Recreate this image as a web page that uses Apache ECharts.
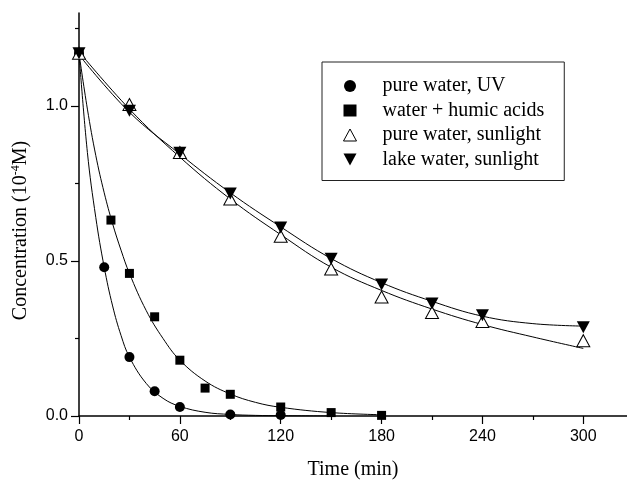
<!DOCTYPE html>
<html>
<head>
<meta charset="utf-8">
<script src="https://cdn.jsdelivr.net/npm/echarts@6/dist/echarts.min.js"></script>
<style>html,body{margin:0;padding:0;background:#fff}#c{width:627px;height:485px}</style>
</head>
<body>
<div id="c"></div>
<script>
// Measured points
var uvT = [0, 15, 30, 45, 60, 90, 120];
var uvC = [1.17, 0.48, 0.19, 0.08, 0.029, 0.005, 0.003];
var humicT = [0, 19, 30, 45, 60, 75, 90, 120, 150, 180];
var humicC = [1.17, 0.632, 0.46, 0.32, 0.18, 0.09, 0.07, 0.029, 0.011, 0.002];
var sunT = [0, 30, 60, 90, 120, 150, 180, 210, 240, 300];
var pureSunC = [1.17, 1.005, 0.85, 0.70, 0.58, 0.474, 0.384, 0.334, 0.305, 0.243];
var lakeSunC = [1.17, 0.985, 0.849, 0.718, 0.608, 0.507, 0.424, 0.363, 0.325, 0.286];

// Fitted curves
var uvFitT = [0, 5, 10, 15, 20, 25, 30, 40, 50, 60, 75, 90, 105, 120, 150];
var uvFit = [1.17, 0.85, 0.64, 0.48, 0.355, 0.26, 0.19, 0.105, 0.057, 0.031, 0.012, 0.005, 0.002, 0.001, 0];
var humicFitT = [0, 5, 10, 15, 20, 25, 30, 40, 50, 60, 75, 90, 105, 120, 150, 180];
var humicFit = [1.17, 0.99, 0.84, 0.72, 0.62, 0.535, 0.46, 0.34, 0.25, 0.18, 0.113, 0.071, 0.044, 0.028, 0.011, 0.004];
var sunFitT = [0, 30, 60, 90, 120, 150, 180, 210, 240, 270, 300];
var pureSunFit = [1.175, 0.99, 0.835, 0.70, 0.585, 0.48, 0.405, 0.345, 0.295, 0.255, 0.218];
var lakeSunFit = [1.165, 0.98, 0.845, 0.72, 0.61, 0.508, 0.43, 0.37, 0.322, 0.298, 0.29];

// Tick labels
var xMajor = [0, 60, 120, 180, 240, 300];
var xMinor = [30, 90, 150, 210, 270];
var yMajor = [0, 0.5, 1.0];
var yMinor = [0.25, 0.75, 1.25];

var names = ['pure water, UV', 'water + humic acids', 'pure water, sunlight', 'lake water, sunlight'];

function zip(a, b) { return a.map(function (v, i) { return [v, b[i]]; }); }

var serif = 'Liberation Serif';
var sans = 'Liberation Sans';
var downTri = 'path://M0,0L12,0L6,11Z';

function fitLine(t, c) {
  return {
    type: 'line', data: zip(t, c), smooth: 0.4, showSymbol: false, symbol: 'none',
    lineStyle: { color: '#000', width: 1 }, silent: true, z: 2
  };
}

var chart = echarts.init(document.getElementById('c'));
chart.setOption({
  animation: false,
  backgroundColor: '#fff',
  grid: { left: 79, right: 0, top: 13, bottom: 66, containLabel: false },
  xAxis: [
    {
      type: 'value', min: 0, max: 326,
      name: 'Time (min)', nameLocation: 'middle', nameGap: 44,
      nameTextStyle: { fontFamily: serif, fontSize: 20, color: '#000' },
      axisLine: { show: true, onZero: false, lineStyle: { color: '#000', width: 1.5 } },
      axisTick: { show: true, length: 8, lineStyle: { color: '#000', width: 1.2 }, customValues: xMajor },
      axisLabel: { fontFamily: sans, fontSize: 16, color: '#000', margin: 13, customValues: xMajor },
      splitLine: { show: false }
    },
    {
      type: 'value', min: 0, max: 326, position: 'bottom',
      axisLine: { show: false },
      axisTick: { show: true, length: 4, lineStyle: { color: '#000', width: 1.2 }, customValues: xMinor },
      axisLabel: { show: false },
      splitLine: { show: false }
    }
  ],
  yAxis: [
    {
      type: 'value', min: 0, max: 1.3,
      name: 'Concentration (10{sup|-4}M)', nameLocation: 'middle', nameGap: 47,
      nameTextStyle: {
        fontFamily: serif, fontSize: 20, color: '#000', padding: [0, 32, 0, 0],
        rich: { sup: { fontFamily: serif, fontSize: 12, color: '#000', verticalAlign: 'top', padding: [0, 0, 10, 0] } }
      },
      axisLine: { show: true, onZero: false, lineStyle: { color: '#000', width: 1.5 } },
      axisTick: { show: true, length: 8, lineStyle: { color: '#000', width: 1.2 }, customValues: yMajor },
      axisLabel: {
        fontFamily: sans, fontSize: 16, color: '#000', margin: 11, customValues: yMajor,
        formatter: function (v) { return v.toFixed(1); }
      },
      splitLine: { show: false }
    },
    {
      type: 'value', min: 0, max: 1.3, position: 'left',
      axisLine: { show: false },
      axisTick: { show: true, length: 4, lineStyle: { color: '#000', width: 1.2 }, customValues: yMinor },
      axisLabel: { show: false },
      splitLine: { show: false }
    }
  ],
  legend: {
    orient: 'vertical', left: 322, top: 62,
    padding: [14, 20, 11, 21],
    itemWidth: 13, itemHeight: 12, itemGap: 4.5,
    borderColor: '#222', borderWidth: 1, backgroundColor: '#fff',
    textStyle: { fontFamily: serif, fontSize: 20, color: '#000', lineHeight: 20, padding: [0, 0, 0, 21] },
    data: [
      { name: names[0], icon: 'circle', itemStyle: { color: '#000', opacity: 1 } },
      { name: names[1], icon: 'rect', itemStyle: { color: '#000', opacity: 1 } },
      { name: names[2], icon: 'triangle', itemStyle: { color: '#fff', borderColor: '#000', borderWidth: 1, opacity: 1 } },
      { name: names[3], icon: downTri, itemStyle: { color: '#000', opacity: 1 } }
    ]
  },
  series: [
    fitLine(uvFitT, uvFit),
    fitLine(humicFitT, humicFit),
    fitLine(sunFitT, pureSunFit),
    fitLine(sunFitT, lakeSunFit),
    {
      name: names[0], type: 'scatter', data: zip(uvT, uvC), symbol: 'circle', symbolSize: 10,
      itemStyle: { color: '#000', opacity: 1 }, z: 5
    },
    {
      name: names[1], type: 'scatter', data: zip(humicT, humicC), symbol: 'rect', symbolSize: 9,
      itemStyle: { color: '#000', opacity: 1 }, z: 5
    },
    {
      name: names[2], type: 'scatter', data: zip(sunT, pureSunC), symbol: 'triangle', symbolSize: [13, 12],
      itemStyle: { color: '#fff', borderColor: '#000', borderWidth: 1, opacity: 1 }, z: 5
    },
    {
      name: names[3], type: 'scatter', data: zip(sunT, lakeSunC), symbol: 'triangle', symbolRotate: 180,
      symbolSize: [13, 12], itemStyle: { color: '#000', opacity: 1 }, z: 6
    }
  ]
});
</script>
</body>
</html>
